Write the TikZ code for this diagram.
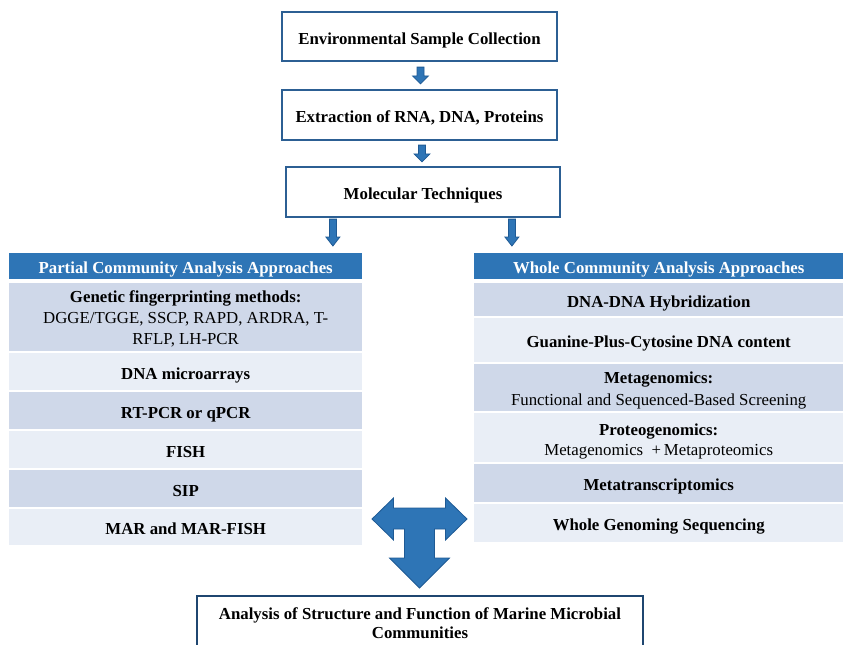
\documentclass[tikz,border=0pt]{standalone}
\usepackage{fontspec}
\setmainfont{Liberation Serif}
\usetikzlibrary{calc}

\definecolor{hdrblue}{HTML}{2E75B6}
\definecolor{rowdark}{HTML}{CFD8E9}
\definecolor{rowlight}{HTML}{E9EEF6}
\definecolor{boxline}{HTML}{2C5F93}
\definecolor{boxlinedark}{HTML}{1F4670}
\definecolor{arrowfill}{HTML}{2E75B6}
\definecolor{arrowline}{HTML}{1F5A94}

% downward block arrow: start, tip, stem half-width, head half-width, head length
\newcommand\downblock[5]{%
  \path[blockarrow] ($(#1)+(-#3,0)$) -- ($(#2)+(-#3,-#5)$) -- ($(#2)+(-#4,-#5)$)
    -- (#2) -- ($(#2)+(#4,-#5)$) -- ($(#2)+(#3,-#5)$) -- ($(#1)+(#3,0)$) -- cycle;}

\begin{document}
\begin{tikzpicture}[x=1pt,y=-1pt,
  every node/.style={inner sep=0pt, align=center, font=\fontsize{16.8}{21}\selectfont},
  % vertical placement of the text: last baseline sits half the given height below centre
  textdrop/.style={text height=#1, text depth=0pt},
  oneline/.style={textdrop=15.2},
  flowbox/.style={draw=boxline, line width=2.2pt, fill=white, minimum width=275,
    minimum height=49, oneline, font=\fontsize{16.8}{21}\selectfont\bfseries},
  resultbox/.style={draw=boxlinedark, line width=2.2pt, fill=white, minimum width=446,
    minimum height=62, anchor=north, font=\fontsize{16.8}{19}\selectfont\bfseries},
  tabhead/.style={fill=hdrblue, text=white, anchor=north west, minimum height=26, oneline,
    font=\fontsize{16.8}{21}\selectfont\bfseries},
  cell/.style={anchor=north west, oneline, font=\fontsize{16.8}{21}\selectfont\bfseries},
  darkcell/.style={cell, fill=rowdark},
  lightcell/.style={cell, fill=rowlight},
  blockarrow/.style={fill=arrowfill, draw=arrowline, line width=0.8pt, line join=miter},
]
\useasboundingbox (0,0) rectangle (844,645);

% workflow boxes
\node[flowbox] (env) at (419.5,36.5) {Environmental Sample Collection};
\node[flowbox, minimum height=50] (ext) at (419.5,115) {Extraction of RNA, DNA, Proteins};
\node[flowbox, minimum width=274, minimum height=50] (mol) at (423,192) {Molecular Techniques};

% partial community table
\node[tabhead, minimum width=353] (phead) at (9,253) {Partial Community Analysis Approaches};
\node[darkcell, minimum width=353, minimum height=68, textdrop=54] (p1) at (9,283)
  {Genetic fingerprinting methods:\\ {\mdseries DGGE/TGGE, SSCP, RAPD, ARDRA, T-}\\ {\mdseries RFLP, LH-PCR}};
\node[lightcell, minimum width=353, minimum height=37] (p2) at (9,353) {DNA microarrays};
\node[darkcell, minimum width=353, minimum height=37] (p3) at (9,392) {RT-PCR or qPCR};
\node[lightcell, minimum width=353, minimum height=37] (p4) at (9,431) {FISH};
\node[darkcell, minimum width=353, minimum height=37] (p5) at (9,470) {SIP};
\node[lightcell, minimum width=353, minimum height=36] (p6) at (9,509) {MAR and MAR-FISH};

% whole community table
\node[tabhead, minimum width=369] (whead) at (474,253) {Whole Community Analysis Approaches};
\node[darkcell, minimum width=369, minimum height=33] (w1) at (474,283) {DNA-DNA Hybridization};
\node[lightcell, minimum width=369, minimum height=44] (w2) at (474,318) {Guanine-Plus-Cytosine DNA content};
\node[darkcell, minimum width=369, minimum height=47, textdrop=36.4,
  font=\fontsize{16.8}{22.4}\selectfont\bfseries] (w3) at (474,364)
  {Metagenomics:\\ {\mdseries Functional and Sequenced-Based Screening}};
\node[lightcell, minimum width=369, minimum height=49, textdrop=35,
  font=\fontsize{16.8}{20}\selectfont\bfseries] (w4) at (474,413)
  {Proteogenomics:\\ {\mdseries Metagenomics~~+\,Metaproteomics}};
\node[darkcell, minimum width=369, minimum height=38] (w5) at (474,464) {Metatranscriptomics};
\node[lightcell, minimum width=369, minimum height=38] (w6) at (474,504) {Whole Genoming Sequencing};

% result box
\node[resultbox, textdrop=22] (res) at (420,595)
  {Analysis of Structure and Function of Marine Microbial\\ Communities};

% arrow anchor points
\coordinate (a1s) at ($(env.south)+(1,5)$);
\coordinate (a1e) at ($(ext.north)+(1,-5)$);
\coordinate (a2s) at ($(ext.south)+(2.5,4)$);
\coordinate (a2e) at ($(mol.north)+(-1,-4)$);
\coordinate (a3s) at ($(mol.south west)+(48,1)$);
\coordinate (a3e) at ($(a3s |- phead.north)+(0,-7)$);
\coordinate (a4s) at ($(mol.south west)+(227,1)$);
\coordinate (a4e) at ($(a4s |- whead.north)+(0,-7)$);

\downblock{a1s}{a1e}{3.5}{8}{8}
\downblock{a2s}{a2e}{3.5}{8}{8}
\downblock{a3s}{a3e}{3.5}{7}{9}
\downblock{a4s}{a4e}{3.5}{7}{9}

% T-shaped arrow joining both tables to the result box
\coordinate (tee) at ($(res.north)+(-0.5,-76)$);
\path[blockarrow, shift={(tee)}]
  (-47.5,0) -- (-26,-21) -- (-26,-11) -- (26,-11) -- (26,-21) -- (47.5,0)
  -- (26,21) -- (26,10) -- (15,10) -- (15,39) -- (30,39) -- (0,69)
  -- (-30,39) -- (-15,39) -- (-15,10) -- (-26,10) -- (-26,21) -- cycle;
\end{tikzpicture}
\end{document}
